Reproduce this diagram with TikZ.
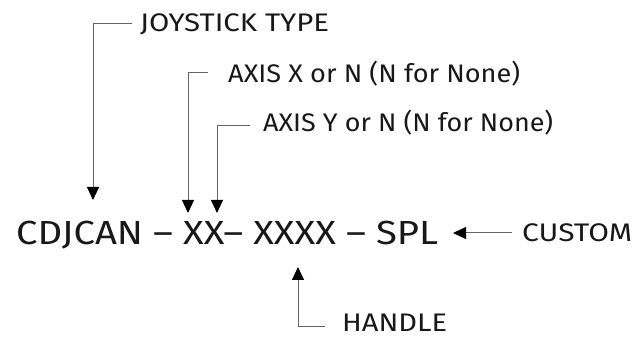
\documentclass[tikz,border=0pt]{standalone}
\usepackage{fontspec}
\setmainfont{Fira Sans}
\usetikzlibrary{arrows.meta}
\definecolor{txt}{RGB}{24,24,24}
\definecolor{lc}{RGB}{100,100,100}
\newcommand\fitw[2]{\resizebox{#1}{\height}{#2}}
\begin{document}
\begin{tikzpicture}[x=1pt,y=1pt,
  lbl/.style={inner sep=0pt, anchor=base west, text=txt, font=\fontsize{25.4}{30}\selectfont},
  code/.style={inner sep=0pt, anchor=base west, text=txt, font=\fontsize{33.4}{38}\selectfont},
  conn/.style={draw=lc, line width=1pt, -{Triangle[length=13pt,width=12pt,color=black]}}]
\useasboundingbox (0,0) rectangle (633,338);
% texts
\node[code] (main) at (16,93) {\fitw{422pt}{CDJCAN – XX– XXXX – SPL}};
\node[lbl] (jt) at (140,306) {\fitw{189pt}{JOYSTICK TYPE}};
\node[lbl] (ax) at (228,255) {\fitw{292pt}{AXIS X or N (N for None)}};
\node[lbl] (ay) at (263,206) {\fitw{290pt}{AXIS Y or N (N for None)}};
\node[lbl] (cu) at (522,96) {\fitw{110pt}{CUSTOM}};
\node[lbl] (ha) at (342,7) {\fitw{105pt}{HANDLE}};
% arrow targets
\coordinate (tj) at (93,138);
\coordinate (tx) at (188,125);
\coordinate (ty) at (217,125);
\coordinate (tc) at (453,105);
\coordinate (th) at (298,71);
% connectors
\draw[conn] ([shift={(-8pt,8pt)}]jt.base west) -| (tj);
\draw[conn] ([shift={(-20pt,10pt)}]ax.base west) -| (tx);
\draw[conn] ([shift={(-13pt,6pt)}]ay.base west) -| (ty);
\draw[conn] ([shift={(-10pt,9pt)}]cu.base west) -- (tc);
\draw[conn] ([shift={(-17pt,5pt)}]ha.base west) -| (th);
\end{tikzpicture}
\end{document}
